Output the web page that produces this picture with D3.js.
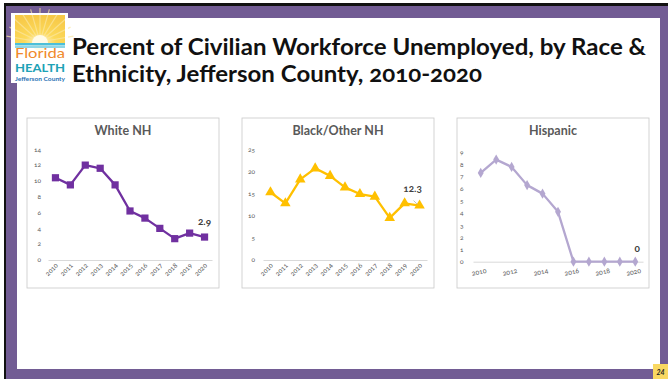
<!DOCTYPE html>
<html>
<head>
<meta charset="utf-8">
<script src="https://cdn.jsdelivr.net/npm/d3@7"></script>
<style>
  body { margin: 0; background: #fff; }
  svg { display: block; font-family: Lato, "Open Sans", sans-serif; }
  .num { font-variant-numeric: oldstyle-nums; }
</style>
</head>
<body>
<div id="chart"></div>
<script>
// data
const years = ["2010", "2011", "2012", "2013", "2014", "2015", "2016", "2017", "2018", "2019", "2020"];
const whiteNH = [10.4, 9.5, 12.0, 11.6, 9.5, 6.2, 5.3, 4.0, 2.7, 3.4, 2.9];
const blackOtherNH = [15.3, 12.8, 18.2, 20.7, 19.0, 16.4, 14.9, 14.3, 9.5, 12.8, 12.3];
const hispanic = [7.3, 8.4, 7.8, 6.3, 5.6, 4.1, 0, 0, 0, 0, 0];
const whiteTicks = [0, 2, 4, 6, 8, 10, 12, 14];
const blackTicks = [0, 5, 10, 15, 20, 25];
const hispanicTicks = [0, 1, 2, 3, 4, 5, 6, 7, 8, 9];
const hispanicYearLabels = ["2010", "2012", "2014", "2016", "2018", "2020"];
const titleLines = ["Percent of Civilian Workforce Unemployed, by Race &", "Ethnicity, Jefferson County, 2010-2020"];

const W = 668, H = 379;
const purple = "#725c94";

let svg = d3.select("#chart").append("svg")
    .attr("width", W)
    .attr("height", H);

// slide frame
svg.append("rect").attr("x", 4).attr("y", 3).attr("width", W - 4).attr("height", H - 3).attr("fill", "#111");
svg.append("rect").attr("x", 6).attr("y", 6).attr("width", W - 6).attr("height", H - 6).attr("fill", purple);
svg.append("rect").attr("x", 17).attr("y", 18).attr("width", 643).attr("height", 351).attr("fill", "#fff");

// logo
let logo = svg.append("g");
logo.append("rect").attr("x", 11).attr("y", 13).attr("width", 57).attr("height", 70).attr("fill", "#fff");
let defs = svg.append("defs");
let sunGrad = defs.append("radialGradient").attr("id", "sun-grad")
    .attr("cx", "50%").attr("cy", "95%").attr("r", "90%");
sunGrad.append("stop").attr("offset", "0%").attr("stop-color", "#fff8d0");
sunGrad.append("stop").attr("offset", "35%").attr("stop-color", "#fcd95a");
sunGrad.append("stop").attr("offset", "100%").attr("stop-color", "#f7c948");
logo.append("rect").attr("x", 15).attr("y", 15).attr("width", 50).attr("height", 28).attr("fill", "url(#sun-grad)");
d3.range(-80, 81, 16).forEach(a => {
    let r = a * Math.PI / 180;
    logo.append("line")
        .attr("x1", 40).attr("y1", 42)
        .attr("x2", 40 + Math.sin(r) * 34).attr("y2", 42 - Math.cos(r) * 34)
        .attr("stroke", "#fbe7a0").attr("stroke-width", 1.2).attr("opacity", 0.7);
});
// clip the rays back to the square
logo.append("rect").attr("x", 11).attr("y", 13).attr("width", 4).attr("height", 30).attr("fill", "#fff");
logo.append("rect").attr("x", 65).attr("y", 13).attr("width", 3).attr("height", 30).attr("fill", "#fff");
logo.append("rect").attr("x", 11).attr("y", 13).attr("width", 57).attr("height", 2).attr("fill", "#fff");
logo.append("circle").attr("cx", 40).attr("cy", 43).attr("r", 8).attr("fill", "#fffbe8");
logo.append("rect").attr("x", 15).attr("y", 43).attr("width", 50).attr("height", 2.5).attr("fill", "#4cbfd9");
logo.append("rect").attr("x", 15).attr("y", 46).attr("width", 50).attr("height", 2).attr("fill", "#8fd6e6");
logo.append("text").attr("x", 15).attr("y", 58).text("Florida")
    .attr("font-size", 12.5).attr("fill", "#f08a2c")
    .attr("textLength", 50).attr("lengthAdjust", "spacingAndGlyphs");
logo.append("text").attr("x", 15).attr("y", 72).text("HEALTH")
    .attr("font-size", 11.5).attr("font-weight", "bold").attr("fill", "#1ea2b6")
    .attr("textLength", 50).attr("lengthAdjust", "spacingAndGlyphs");
logo.append("text").attr("x", 15).attr("y", 81).text("Jefferson County")
    .attr("font-size", 6).attr("font-weight", "bold").attr("fill", "#2b72b5")
    .attr("textLength", 50).attr("lengthAdjust", "spacingAndGlyphs");

// title
let titleEnds = [646, 482];
titleLines.forEach((t, i) => {
    let txt = svg.append("text")
        .attr("class", "num")
        .attr("x", 72)
        .attr("y", 55 + i * 27)
        .attr("font-size", 23)
        .attr("font-weight", "bold")
        .attr("fill", "#111")
        .text(t);
    let target = titleEnds[i] - 72;
    if (Math.abs(txt.node().getComputedTextLength() - target) > 2) {
        txt.attr("textLength", target).attr("lengthAdjust", "spacingAndGlyphs");
    }
});

// page number
svg.append("rect").attr("x", 653).attr("y", 364).attr("width", 15).attr("height", 15).attr("fill", "#f9d862");
svg.append("text").attr("x", 660.5).attr("y", 374.5).attr("text-anchor", "middle")
    .attr("font-size", 7).attr("font-weight", "bold").attr("font-style", "italic")
    .attr("fill", "#222").text("24");

// panels
const panels = [
    {title: "White NH", values: whiteNH, ticks: whiteTicks, color: "#7030a0", marker: d3.symbolSquare, size: 52,
     left: 27, axisX: [48, 212], yRange: [260, 149.3], tickX: 41, tickAnchor: "end",
     label: "2.9", labelDx: 0, labelDy: -12, xLabels: years, rot: -45},
    {title: "Black/Other NH", values: blackOtherNH, ticks: blackTicks, color: "#ffc000", marker: d3.symbolTriangle, size: 48,
     left: 242, axisX: [263, 427], yRange: [260, 149.3], tickX: 255, tickAnchor: "end",
     label: "12.3", labelDx: -7, labelDy: -14, leader: true, xLabels: years, rot: -45},
    {title: "Hispanic", values: hispanic, ticks: hispanicTicks, color: "#b4a7d0", marker: d3.symbolDiamond, size: 30,
     left: 457, axisX: [473, 643], yRange: [261.7, 152.3], tickX: 460, tickAnchor: "start",
     label: "0", labelDx: 2, labelDy: -10, xLabels: hispanicYearLabels, rot: -12}
];

panels.forEach(p => {
    let g = svg.append("g");

    g.append("rect")
        .attr("x", p.left).attr("y", 118)
        .attr("width", 192).attr("height", 170)
        .attr("fill", "#fff")
        .attr("stroke", "#c8c8c8").attr("stroke-width", 0.8);

    g.append("text")
        .attr("x", p.left + 96).attr("y", 135)
        .attr("text-anchor", "middle")
        .attr("font-size", 12.5).attr("font-weight", "bold")
        .attr("fill", "#595959")
        .text(p.title);

    let x = d3.scaleBand().domain(years).range(p.axisX);
    let y = d3.scaleLinear().domain([0, d3.max(p.ticks)]).range(p.yRange);

    // y tick labels
    g.selectAll(".ytick").data(p.ticks).enter().append("text")
        .attr("class", "num")
        .attr("x", p.tickX)
        .attr("y", d => y(d))
        .attr("dy", "0.35em")
        .attr("text-anchor", p.tickAnchor)
        .attr("font-size", 6.5)
        .attr("fill", "#595959")
        .text(d => d);

    // category axis
    let xAxis = d3.axisBottom(x).tickSize(0).tickFormat("");
    let ax = g.append("g").attr("transform", `translate(0, ${y(0)})`).call(xAxis);
    ax.select(".domain").attr("stroke", "#d9d9d9").attr("stroke-width", 1);

    g.selectAll(".xlab").data(p.xLabels).enter().append("text")
        .attr("class", "num")
        .attr("transform", d => {
            let cx = x(d) + x.bandwidth() / 2;
            return p.rot === -45
                ? `translate(${cx + 3}, ${y(0) + 6}) rotate(${p.rot})`
                : `translate(${cx + 6}, ${y(0) + 11}) rotate(${p.rot})`;
        })
        .attr("text-anchor", "end")
        .attr("font-size", 6.8)
        .attr("fill", "#595959")
        .text(d => d);

    // line
    let line = d3.line()
        .x((d, i) => x(years[i]) + x.bandwidth() / 2)
        .y(d => y(d));

    g.append("path")
        .datum(p.values)
        .attr("d", line)
        .attr("fill", "none")
        .attr("stroke", p.color)
        .attr("stroke-width", 2.3)
        .attr("stroke-linejoin", "round");

    g.selectAll(".pt").data(p.values).enter().append("path")
        .attr("d", d3.symbol().type(p.marker).size(p.size))
        .attr("transform", (d, i) => `translate(${x(years[i]) + x.bandwidth() / 2}, ${y(d)})`)
        .attr("fill", p.color);

    // data label on last point
    let last = p.values.length - 1;
    let lx = x(years[last]) + x.bandwidth() / 2;
    let ly = y(p.values[last]);
    g.append("text")
        .attr("class", "num")
        .attr("x", lx + p.labelDx)
        .attr("y", ly + p.labelDy)
        .attr("text-anchor", "middle")
        .attr("font-size", 10).attr("font-weight", "bold")
        .attr("fill", "#404040")
        .text(p.label);
    if (p.leader) {
        g.append("line")
            .attr("x1", lx - 6).attr("y1", ly - 5)
            .attr("x2", lx - 2).attr("y2", ly - 1)
            .attr("stroke", "#a6a6a6").attr("stroke-width", 0.7);
    }
});
</script>
</body>
</html>
